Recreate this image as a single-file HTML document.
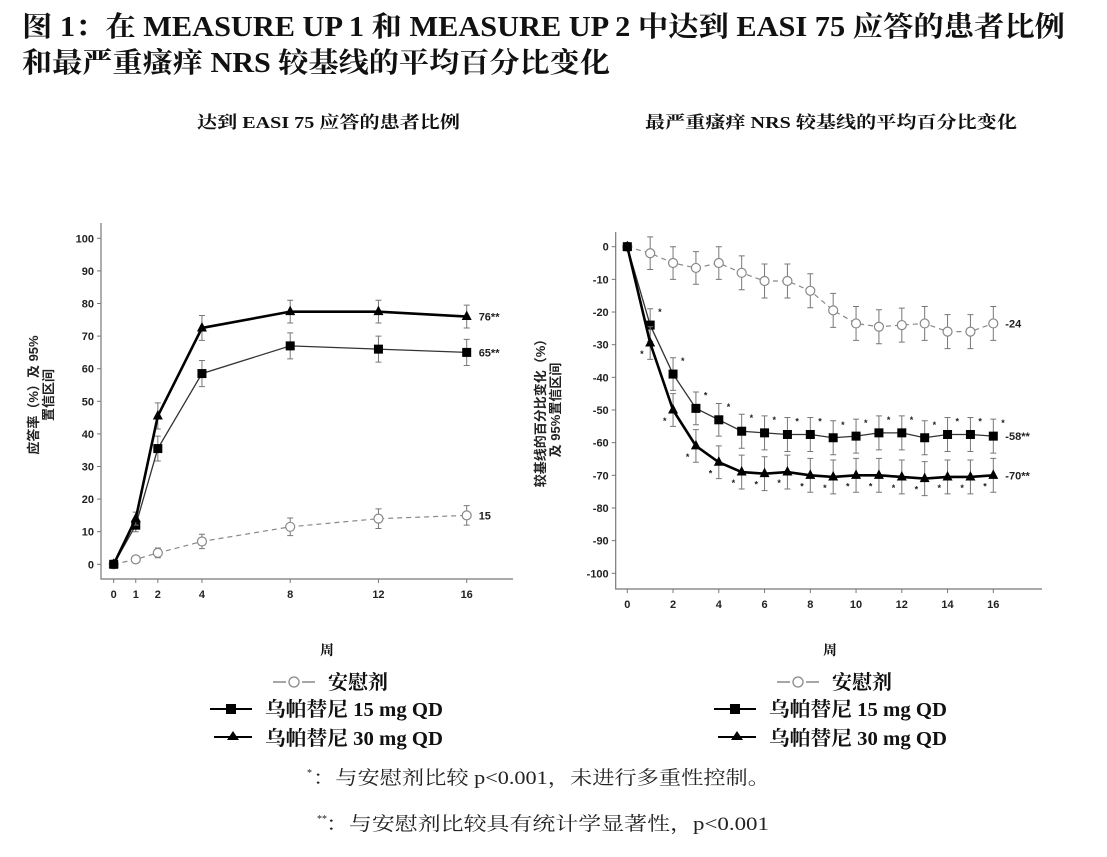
<!DOCTYPE html>
<html><head><meta charset="utf-8">
<style>
body{margin:0;background:#fff;width:1107px;height:857px;overflow:hidden;font-family:"Liberation Serif","Noto Serif CJK SC",serif;}
svg{position:absolute;left:0;top:0}
.t{font-family:"Liberation Serif","Noto Serif CJK SC",serif;font-weight:bold;fill:#111}
.tk{font-family:"Liberation Sans","Noto Sans CJK SC",sans-serif;font-weight:bold;font-size:11px;fill:#222}
.fn{font-family:"Liberation Serif","Noto Serif CJK SC",serif;font-size:19px;fill:#222}
</style></head><body>
<svg id="s" width="1107" height="857">
<text class="t" x="22" y="36" font-size="28" textLength="1043" lengthAdjust="spacingAndGlyphs">图 1：在 MEASURE UP 1 和 MEASURE UP 2 中达到 EASI 75 应答的患者比例</text>
<text class="t" x="22" y="72" font-size="28" textLength="588" lengthAdjust="spacingAndGlyphs">和最严重瘙痒 NRS 较基线的平均百分比变化</text>
<text class="t" x="197" y="128" font-size="17" textLength="263" lengthAdjust="spacingAndGlyphs">达到 EASI 75 应答的患者比例</text>
<text class="t" x="645" y="128" font-size="17" textLength="372" lengthAdjust="spacingAndGlyphs">最严重瘙痒 NRS 较基线的平均百分比变化</text>
<g id="L"></g>
<g id="R"></g>
<text class="t" x="327" y="655" font-size="14" text-anchor="middle">周</text>
<text class="t" x="830" y="655" font-size="14" text-anchor="middle">周</text>
<g>
<line x1="273" y1="682" x2="286" y2="682" stroke="#888" stroke-width="1.5"/><circle cx="294" cy="682" r="5" fill="#fff" stroke="#888" stroke-width="1.3"/><line x1="302" y1="682" x2="315" y2="682" stroke="#888" stroke-width="1.5"/>
<text class="t" x="328" y="689" font-size="20">安慰剂</text>
<line x1="210" y1="709" x2="252" y2="709" stroke="#000" stroke-width="2"/><rect x="226" y="704" width="10" height="10" fill="#000"/>
<text class="t" x="265" y="716" font-size="20" textLength="178" lengthAdjust="spacingAndGlyphs">乌帕替尼 15 mg QD</text>
<line x1="214" y1="737" x2="252" y2="737" stroke="#000" stroke-width="2"/><path d="M233 731 L239 740 L227 740 Z" fill="#000"/>
<text class="t" x="265" y="745" font-size="20" textLength="178" lengthAdjust="spacingAndGlyphs">乌帕替尼 30 mg QD</text>
</g>
<g transform="translate(504,0)">
<line x1="273" y1="682" x2="286" y2="682" stroke="#888" stroke-width="1.5"/><circle cx="294" cy="682" r="5" fill="#fff" stroke="#888" stroke-width="1.3"/><line x1="302" y1="682" x2="315" y2="682" stroke="#888" stroke-width="1.5"/>
<text class="t" x="328" y="689" font-size="20">安慰剂</text>
<line x1="210" y1="709" x2="252" y2="709" stroke="#000" stroke-width="2"/><rect x="226" y="704" width="10" height="10" fill="#000"/>
<text class="t" x="265" y="716" font-size="20" textLength="178" lengthAdjust="spacingAndGlyphs">乌帕替尼 15 mg QD</text>
<line x1="214" y1="737" x2="252" y2="737" stroke="#000" stroke-width="2"/><path d="M233 731 L239 740 L227 740 Z" fill="#000"/>
<text class="t" x="265" y="745" font-size="20" textLength="178" lengthAdjust="spacingAndGlyphs">乌帕替尼 30 mg QD</text>
</g>
<text x="307" y="776" style="font-size:10px;font-family:'Liberation Serif',serif;fill:#222">*</text>
<text class="fn" x="313" y="784" textLength="457" lengthAdjust="spacingAndGlyphs">：与安慰剂比较 p&lt;0.001，未进行多重性控制。</text>
<text x="317" y="822" style="font-size:10px;font-family:'Liberation Serif',serif;fill:#222">**</text>
<text class="fn" x="326" y="830" textLength="443" lengthAdjust="spacingAndGlyphs">：与安慰剂比较具有统计学显著性，p&lt;0.001</text>
</svg>
<script>
const NS='http://www.w3.org/2000/svg';
// Left chart data
const leftWeeks=[0,1,2,4,8,12,16];
const leftPlacebo=[0,1.5,3.5,7,11.5,14,15];
const leftPlaceboCI=[0,1,1.5,2.2,2.7,3,3];
const left15=[0,12,35.5,58.5,67,66,65];
const left15CI=[0,2,3.8,4,4,4,4];
const left30=[0,14,45.5,72.5,77.5,77.5,76];
const left30CI=[0,2,4,3.8,3.5,3.5,3.5];
const leftYTicks=[0,10,20,30,40,50,60,70,80,90,100];
const leftXTicks=[0,1,2,4,8,12,16];
const leftEnd=['15','65**','76**'];
// Right chart data
const rightWeeks=[0,1,2,3,4,5,6,7,8,9,10,11,12,13,14,15,16];
const rightPlacebo=[0,-2,-5,-6.5,-5,-8,-10.5,-10.5,-13.5,-19.5,-23.5,-24.5,-24,-23.5,-26,-26,-23.5];
const right15=[0,-24,-39,-49.5,-53,-56.5,-57,-57.5,-57.5,-58.5,-58,-57,-57,-58.5,-57.5,-57.5,-58];
const right30=[0,-29.5,-50,-61,-66,-69,-69.5,-69,-70,-70.5,-70,-70,-70.5,-71,-70.5,-70.5,-70];
const rightCI=[0,5,5,5,5,5.2,5.2,5.2,5.2,5.2,5.2,5.2,5.2,5.2,5.2,5.2,5.2];
const rightYTicks=[0,-10,-20,-30,-40,-50,-60,-70,-80,-90,-100];
const rightXTicks=[0,2,4,6,8,10,12,14,16];
const rightEnd=['-24','-58**','-70**'];

function el(tag,attrs,parent){const e=document.createElementNS(NS,tag);for(const k in attrs)e.setAttribute(k,attrs[k]);parent.appendChild(e);return e;}

function chart(g,cfg){
  const X=v=>cfg.x0+(v-cfg.xmin)*(cfg.x1-cfg.x0)/(cfg.xmax-cfg.xmin);
  const Y=v=>cfg.y0+(v-cfg.ymin)*(cfg.y1-cfg.y0)/(cfg.ymax-cfg.ymin);
  const ax=el('path',{d:`M${cfg.axL} ${cfg.axT} V${cfg.axB} H${cfg.axR}`,fill:'none',stroke:'#777','stroke-width':1.2},g);
  
  
  cfg.yt.forEach(v=>{
    el('line',{x1:cfg.axL-4,x2:cfg.axL,y1:Y(v),y2:Y(v),stroke:'#777'},g);
    const t=el('text',{x:cfg.axL-7,y:Y(v)+4,'text-anchor':'end',class:'tk'},g);t.textContent=v;
    
    
  });
  cfg.xt.forEach(v=>{
    el('line',{x1:X(v),x2:X(v),y1:cfg.axB,y2:cfg.axB+4,stroke:'#777'},g);
    const t=el('text',{x:X(v),y:cfg.axB+19,'text-anchor':'middle',class:'tk'},g);t.textContent=v;
    
    
  });
  const yl=el('text',{transform:`translate(${cfg.ylx},${cfg.yly}) rotate(-90)`,'text-anchor':'middle',class:'tk',style:'font-size:13px'},g);
  
  
  cfg.ylab.forEach((s,i)=>{const ts=el('tspan',{x:0,dy:i?15:0},yl);ts.textContent=s;});
  cfg.series.forEach((s,si)=>{
    const pts=cfg.wk.map((w,i)=>[X(w),Y(s.v[i])]);
    cfg.wk.forEach((w,i)=>{if(!s.ci[i])return;const x=X(w),a=Y(s.v[i]+s.ci[i]),b=Y(s.v[i]-s.ci[i]);
      const eb=el('path',{d:`M${x} ${a}V${b}M${x-3} ${a}H${x+3}M${x-3} ${b}H${x+3}`,stroke:'#777',fill:'none','stroke-width':1},g);
      
      
    });
    const ln=el('polyline',{points:pts.map(p=>p.join(',')).join(' '),fill:'none',stroke:s.c,'stroke-width':s.w,'stroke-dasharray':s.dash||'none'},g);
    
    
    pts.forEach(([x,y],i)=>{
      let m;
      if(s.m==='o')m=el('circle',{cx:x,cy:y,r:4.5,fill:'#fff',stroke:'#888','stroke-width':1.2},g);
      else if(s.m==='s')m=el('rect',{x:x-4.5,y:y-4.5,width:9,height:9,fill:'#000'},g);
      else m=el('path',{d:`M${x} ${y-6}L${x+5} ${y+3.5}L${x-5} ${y+3.5}Z`,fill:'#000'},g);
      
      
      if(s.star&&i>0){
        const st=el('text',{x:x+s.star[0],y:y+s.star[1],class:'tk',style:'font-size:9px'},g);st.textContent='*';
        
        
      }
    });
    const last=pts[pts.length-1];
    const et=el('text',{x:last[0]+12,y:last[1]+4,class:'tk'},g);et.textContent=s.end;
    
    
  });
}
chart(document.getElementById('L'),{x0:113.7,x1:466.7,xmin:0,xmax:16,y0:564.3,y1:238.3,ymin:0,ymax:100,
  axL:101,axT:223,axB:579,axR:513,yt:leftYTicks,xt:leftXTicks,wk:leftWeeks,ylx:38,yly:395,ylab:['应答率（%）及 95%','置信区间'],
  series:[{name:'placebo',v:leftPlacebo,ci:leftPlaceboCI,m:'o',c:'#888',w:1.2,dash:'5,4',end:leftEnd[0]},
          {name:'upa-15mg',v:left15,ci:left15CI,m:'s',c:'#333',w:1.3,end:leftEnd[1]},
          {name:'upa-30mg',v:left30,ci:left30CI,m:'t',c:'#000',w:2.6,end:leftEnd[2]}]});
chart(document.getElementById('R'),{x0:627.3,x1:993.3,xmin:0,xmax:16,y0:246.7,y1:573.3,ymin:0,ymax:-100,
  axL:615.7,axT:232,axB:589,axR:1042,yt:rightYTicks,xt:rightXTicks,wk:rightWeeks,ylx:545,yly:410,ylab:['较基线的百分比变化（%）','及 95%置信区间'],
  series:[{name:'placebo',v:rightPlacebo,ci:rightCI,m:'o',c:'#888',w:1.2,dash:'5,4',end:rightEnd[0]},
          {name:'upa-15mg',v:right15,ci:rightCI,m:'s',c:'#333',w:1.3,end:rightEnd[1],star:[8,-10]},
          {name:'upa-30mg',v:right30,ci:rightCI,m:'t',c:'#000',w:2.6,end:rightEnd[2],star:[-10,14]}]});
</script>
</body></html>
